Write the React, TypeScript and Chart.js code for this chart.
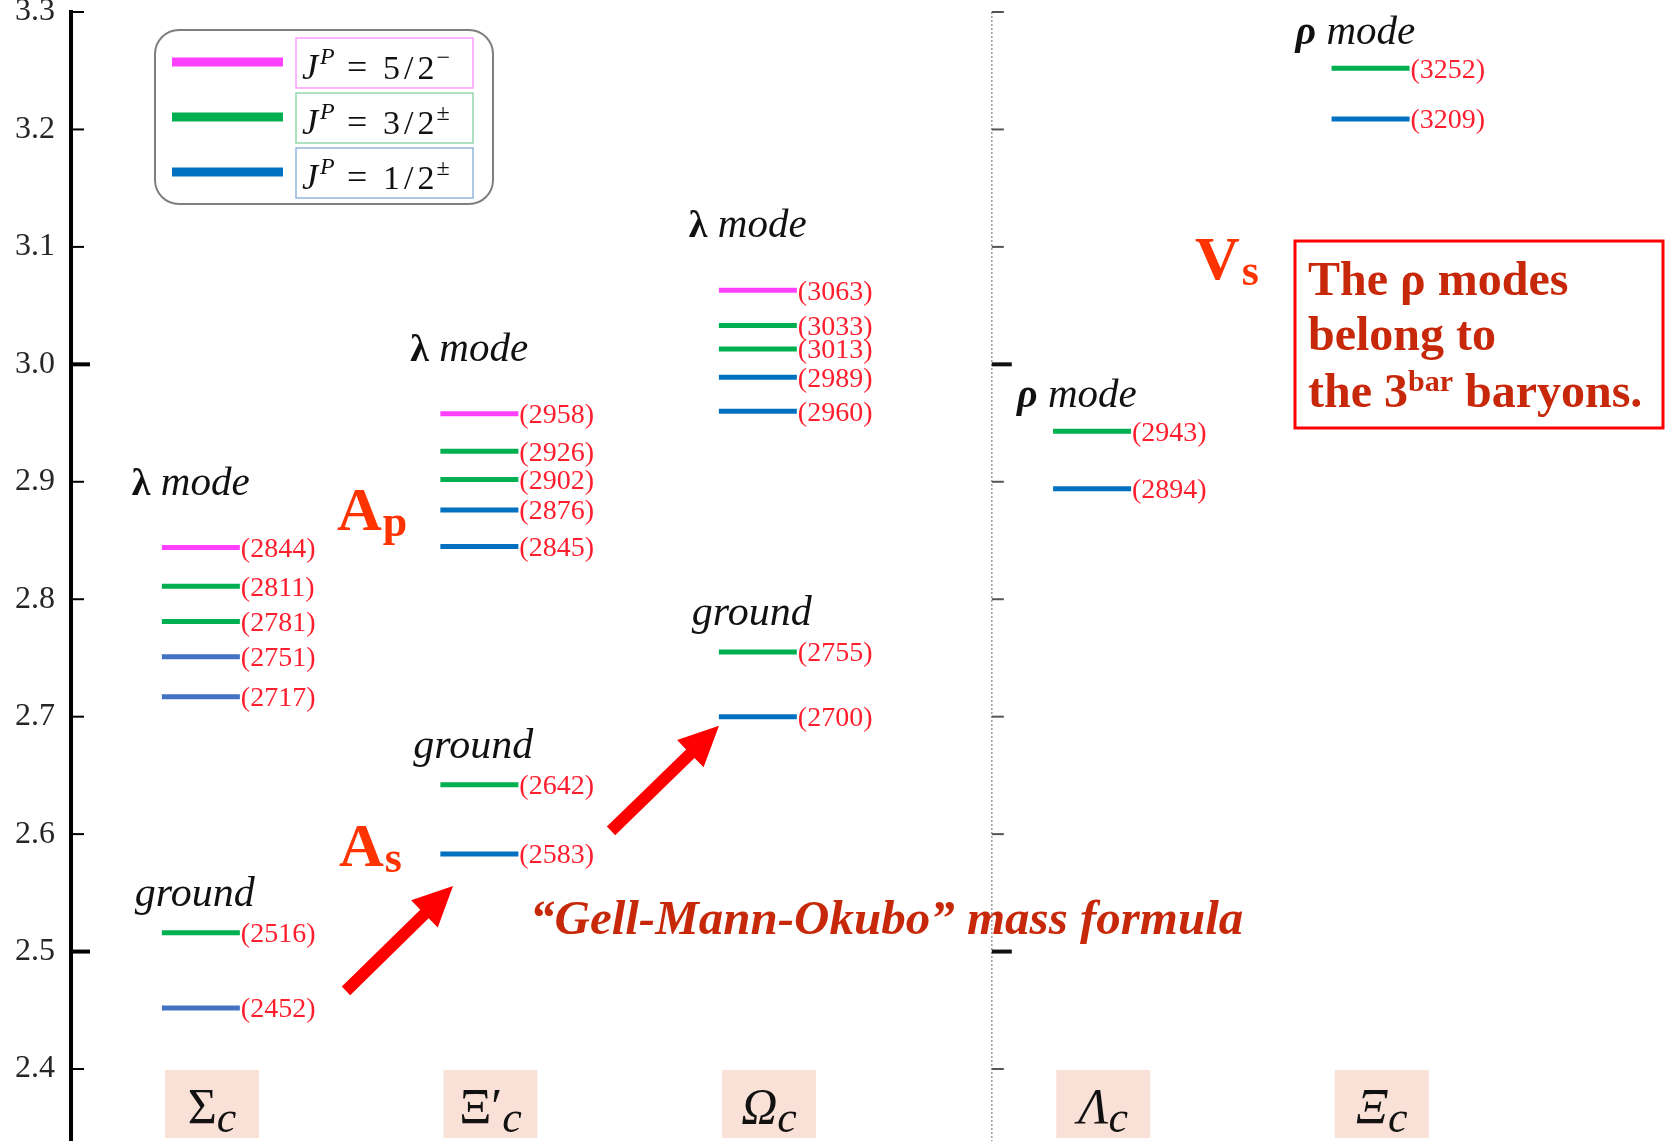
import { useEffect, useRef } from 'react';
import { Chart, registerables } from 'chart.js';

Chart.register(...registerables);

// Baryon columns along the horizontal axis
const baryonSymbols = ['Σ', 'Ξ′', 'Ω', 'Λ', 'Ξ'];
const baryonItalic = [false, false, true, true, true];
const baryonPositions = [0, 1, 2, 3.2, 4.2];
const multipletDivider = 2.8;

// Mass levels (MeV) with their J^P class, one pair of arrays per multiplet
const sigmaGroundMasses = [2452, 2516];
const sigmaGroundSpins = ['1/2', '3/2'];
const sigmaLambdaMasses = [2717, 2751, 2781, 2811, 2844];
const sigmaLambdaSpins = ['1/2', '1/2', '3/2', '3/2', '5/2'];
const xiPrimeGroundMasses = [2583, 2642];
const xiPrimeGroundSpins = ['1/2', '3/2'];
const xiPrimeLambdaMasses = [2845, 2876, 2902, 2926, 2958];
const xiPrimeLambdaSpins = ['1/2', '1/2', '3/2', '3/2', '5/2'];
const omegaGroundMasses = [2700, 2755];
const omegaGroundSpins = ['1/2', '3/2'];
const omegaLambdaMasses = [2960, 2989, 3013, 3033, 3063];
const omegaLambdaSpins = ['1/2', '1/2', '3/2', '3/2', '5/2'];
const lambdaRhoMasses = [2894, 2943];
const lambdaRhoSpins = ['1/2', '3/2'];
const xiRhoMasses = [3209, 3252];
const xiRhoSpins = ['1/2', '3/2'];

// Axis ticks (GeV)
const yTickValues = [2.4, 2.5, 2.6, 2.7, 2.8, 2.9, 3.0, 3.1, 3.2, 3.3];
const yMajorTicks = [2.5, 3.0];

// Legend rows
const legendSpins = ['5/2', '3/2', '1/2'];
const legendParities = ['−', '±', '±'];

type Mode = 'ground' | 'lambda' | 'rho';
interface Multiplet { baryon: number; masses: number[]; spins: string[]; mode: Mode }

const multiplets: Multiplet[] = [
  { baryon: 0, masses: sigmaGroundMasses, spins: sigmaGroundSpins, mode: 'ground' },
  { baryon: 0, masses: sigmaLambdaMasses, spins: sigmaLambdaSpins, mode: 'lambda' },
  { baryon: 1, masses: xiPrimeGroundMasses, spins: xiPrimeGroundSpins, mode: 'ground' },
  { baryon: 1, masses: xiPrimeLambdaMasses, spins: xiPrimeLambdaSpins, mode: 'lambda' },
  { baryon: 2, masses: omegaGroundMasses, spins: omegaGroundSpins, mode: 'ground' },
  { baryon: 2, masses: omegaLambdaMasses, spins: omegaLambdaSpins, mode: 'lambda' },
  { baryon: 3, masses: lambdaRhoMasses, spins: lambdaRhoSpins, mode: 'rho' },
  { baryon: 4, masses: xiRhoMasses, spins: xiRhoSpins, mode: 'rho' },
];

const spinColors: Record<string, string> = { '5/2': '#FF40FF', '3/2': '#00B050', '1/2': '#0070C0' };
const sigmaBlue = '#4472C4';
const levelColor = (baryon: number, spin: string) =>
  spin === '1/2' && baryon === 0 ? sigmaBlue : spinColors[spin];

const LEVEL_LEFT = 0.18;
const LEVEL_RIGHT = 0.1;
const X_MIN = -0.5063;
const X_MAX = 5.2388;
const Y_MIN = 2.3387;
const Y_MAX = 3.3;

const SERIF = '"Liberation Serif", "Times New Roman", serif';
const LABEL_RED = '#FF1E2D';
const ANNOT_RED = '#FF3300';
const NOTE_RED = '#C8280A';

// One dataset per level (a short horizontal segment), remembering the multiplet it belongs to
const datasets: any[] = [];
const topLevelIndex: number[] = [];
multiplets.forEach((mp) => {
  const cx = baryonPositions[mp.baryon];
  let topIdx = -1;
  let topMass = -Infinity;
  mp.masses.forEach((m, i) => {
    if (m > topMass) { topMass = m; topIdx = datasets.length; }
    datasets.push({
      label: `${m}`,
      mass: m,
      data: [
        { x: cx - LEVEL_LEFT, y: m / 1000 },
        { x: cx + LEVEL_RIGHT, y: m / 1000 },
      ],
      showLine: true,
      borderColor: levelColor(mp.baryon, mp.spins[i]),
      backgroundColor: levelColor(mp.baryon, mp.spins[i]),
      borderWidth: 5,
      borderCapStyle: 'butt',
      pointRadius: 0,
      pointHoverRadius: 0,
      fill: false,
    });
  });
  topLevelIndex.push(topIdx);
});

interface Run { text: string; font: string; dy?: number; gap?: number }

function runsWidth(ctx: CanvasRenderingContext2D, runs: Run[]) {
  let w = 0;
  runs.forEach((r) => { ctx.font = r.font; w += ctx.measureText(r.text).width + (r.gap || 0); });
  return w;
}

function drawRuns(ctx: CanvasRenderingContext2D, x: number, y: number, runs: Run[], color: string) {
  ctx.fillStyle = color;
  ctx.textBaseline = 'alphabetic';
  ctx.textAlign = 'left';
  let cx = x;
  runs.forEach((r) => {
    ctx.font = r.font;
    ctx.fillText(r.text, cx, y + (r.dy || 0));
    cx += ctx.measureText(r.text).width + (r.gap || 0);
  });
  return cx;
}

function drawArrow(ctx: CanvasRenderingContext2D, x1: number, y1: number, x2: number, y2: number) {
  const shaft = 12;
  const headW = 38;
  const headL = 40;
  const dx = x2 - x1;
  const dy = y2 - y1;
  const len = Math.hypot(dx, dy);
  const ux = dx / len;
  const uy = dy / len;
  const nx = -uy;
  const ny = ux;
  const bx = x2 - ux * headL;
  const by = y2 - uy * headL;
  ctx.fillStyle = '#FF0000';
  ctx.beginPath();
  ctx.moveTo(x1 + nx * shaft / 2, y1 + ny * shaft / 2);
  ctx.lineTo(bx + nx * shaft / 2, by + ny * shaft / 2);
  ctx.lineTo(bx + nx * headW / 2, by + ny * headW / 2);
  ctx.lineTo(x2, y2);
  ctx.lineTo(bx - nx * headW / 2, by - ny * headW / 2);
  ctx.lineTo(bx - nx * shaft / 2, by - ny * shaft / 2);
  ctx.lineTo(x1 - nx * shaft / 2, y1 - ny * shaft / 2);
  ctx.closePath();
  ctx.fill();
}

const overlayPlugin = {
  id: 'levelOverlay',
  afterDraw(chart: any) {
    const { ctx, chartArea: ca } = chart;
    const xs = chart.scales.x;
    const ys = chart.scales.y;
    const px = (v: number) => xs.getPixelForValue(v);
    const py = (v: number) => ys.getPixelForValue(v);
    ctx.save();

    // inward ticks on the main axis
    yTickValues.forEach((v) => {
      const major = yMajorTicks.includes(v);
      const y = py(v);
      ctx.strokeStyle = '#000';
      ctx.lineWidth = major ? 4 : 2;
      ctx.beginPath();
      ctx.moveTo(ca.left, y);
      ctx.lineTo(ca.left + (major ? 19 : 13), y);
      ctx.stroke();
    });

    // dotted divider between the sextet and anti-triplet columns
    const dx = px(multipletDivider);
    ctx.setLineDash([2, 2]);
    ctx.strokeStyle = '#9a9a9a';
    ctx.lineWidth = 1.5;
    ctx.beginPath();
    ctx.moveTo(dx, ca.top);
    ctx.lineTo(dx, ca.bottom);
    ctx.stroke();
    ctx.setLineDash([]);
    yTickValues.forEach((v) => {
      const major = yMajorTicks.includes(v);
      const y = py(v);
      ctx.strokeStyle = major ? '#111' : '#555';
      ctx.lineWidth = major ? 4 : 2;
      ctx.beginPath();
      ctx.moveTo(dx, y);
      ctx.lineTo(dx + (major ? 20 : 12), y);
      ctx.stroke();
    });

    // mass labels at the right end of each level
    ctx.font = `28px ${SERIF}`;
    ctx.fillStyle = LABEL_RED;
    ctx.textAlign = 'left';
    ctx.textBaseline = 'middle';
    chart.data.datasets.forEach((ds: any, i: number) => {
      const pt = chart.getDatasetMeta(i).data[1];
      ctx.fillText(`(${ds.mass})`, pt.x + 1, pt.y + 2);
    });

    // multiplet titles
    multiplets.forEach((mp, k) => {
      const pt = chart.getDatasetMeta(topLevelIndex[k]).data[0];
      let runs: Run[];
      let off: number;
      let gap: number;
      if (mp.mode === 'lambda') {
        runs = [{ text: 'λ', font: `bold 38px ${SERIF}` }, { text: ' mode', font: `italic 41px ${SERIF}` }];
        off = 30; gap = 53;
      } else if (mp.mode === 'rho') {
        runs = [{ text: 'ρ', font: `bold italic 40px ${SERIF}` }, { text: ' mode', font: `italic 41px ${SERIF}` }];
        off = 36; gap = 24;
      } else {
        runs = [{ text: 'ground', font: `italic 42px ${SERIF}` }];
        off = 27; gap = 27;
      }
      drawRuns(ctx, pt.x - off, pt.y - gap, runs, '#111');
    });

    // baryon name tags along the bottom
    const tagTop = py(2.4) + 1;
    baryonSymbols.forEach((sym, i) => {
      const cx = px(baryonPositions[i]);
      ctx.fillStyle = '#FAE1D7';
      ctx.fillRect(cx - 47, tagTop, 94, 68);
      const runs: Run[] = [
        { text: sym, font: `${baryonItalic[i] ? 'italic ' : ''}50px ${SERIF}` },
        { text: 'c', font: `italic 44px ${SERIF}`, dy: 9 },
      ];
      const w = runsWidth(ctx, runs);
      drawRuns(ctx, cx - w / 2, tagTop + 53, runs, '#111');
    });

    // legend
    const lx = 155;
    const ly = 30;
    ctx.strokeStyle = '#7f7f7f';
    ctx.lineWidth = 2;
    ctx.beginPath();
    ctx.roundRect(lx, ly, 338, 174, 24);
    ctx.stroke();
    const boxColors = ['#FF9CFF', '#92D7AA', '#93B7DD'];
    legendSpins.forEach((spin, i) => {
      const rowY = ly + 32 + i * 55;
      ctx.strokeStyle = spinColors[spin];
      ctx.lineWidth = 9;
      ctx.beginPath();
      ctx.moveTo(lx + 17, rowY);
      ctx.lineTo(lx + 128, rowY);
      ctx.stroke();
      ctx.strokeStyle = boxColors[i];
      ctx.lineWidth = 1.5;
      ctx.strokeRect(lx + 141, rowY - 24, 177, 50);
      const base = rowY + 17;
      const [num, den] = spin.split('/');
      let tx = drawRuns(ctx, lx + 147, base, [{ text: 'J', font: `italic 36px ${SERIF}`, gap: 2 }], '#111');
      tx = drawRuns(ctx, tx, base - 15, [{ text: 'P', font: `italic 24px ${SERIF}` }], '#111');
      tx = drawRuns(ctx, lx + 192, base, [{ text: '=', font: `36px ${SERIF}` }], '#111');
      tx = drawRuns(ctx, lx + 228, base, [
        { text: num, font: `34px ${SERIF}`, gap: 4 },
        { text: '/', font: `34px ${SERIF}`, gap: 4 },
        { text: den, font: `34px ${SERIF}`, gap: 2 },
      ], '#111');
      drawRuns(ctx, tx, base - 14, [{ text: legendParities[i], font: `24px ${SERIF}` }], '#111');
    });

    // Gell-Mann–Okubo arrows
    drawArrow(ctx, px(0.4811), py(2.4665), px(0.8654), py(2.5559));
    drawArrow(ctx, px(1.4327), py(2.6028), px(1.8205), py(2.6922));

    // symmetry-breaking tags
    drawRuns(ctx, px(0.4488), py(2.8589), [
      { text: 'A', font: `bold 62px ${SERIF}`, gap: 1 },
      { text: 'p', font: `bold 44px ${SERIF}`, dy: 6 },
    ], ANNOT_RED);
    drawRuns(ctx, px(0.456), py(2.5725), [
      { text: 'A', font: `bold 62px ${SERIF}`, gap: 1 },
      { text: 's', font: `bold 44px ${SERIF}`, dy: 6 },
    ], ANNOT_RED);
    drawRuns(ctx, px(3.5296), py(3.0726), [
      { text: 'V', font: `bold 62px ${SERIF}`, gap: 2 },
      { text: 's', font: `bold 44px ${SERIF}`, dy: 6 },
    ], ANNOT_RED);

    drawRuns(ctx, px(1.1418), py(2.5149), [
      { text: '“Gell-Mann-Okubo” mass formula', font: `bold italic 49px ${SERIF}` },
    ], NOTE_RED);

    // boxed note about the rho modes
    const bx1 = px(3.8887);
    const bx2 = px(5.2101);
    const by1 = py(3.105);
    const by2 = py(2.9458);
    ctx.strokeStyle = '#FF0000';
    ctx.lineWidth = 3;
    ctx.strokeRect(bx1, by1, bx2 - bx1, by2 - by1);
    const noteFont = `bold 48px ${SERIF}`;
    drawRuns(ctx, bx1 + 13, by1 + 54, [{ text: 'The ρ modes', font: noteFont }], NOTE_RED);
    drawRuns(ctx, bx1 + 13, by1 + 109, [{ text: 'belong to', font: noteFont }], NOTE_RED);
    drawRuns(ctx, bx1 + 13, by1 + 166, [
      { text: 'the 3', font: noteFont },
      { text: 'bar', font: `bold 30px ${SERIF}`, dy: -16 },
      { text: ' baryons.', font: noteFont },
    ], NOTE_RED);

    ctx.restore();
  },
};

export default function App() {
  const canvasRef = useRef<HTMLCanvasElement>(null);

  useEffect(() => {
    const canvas = canvasRef.current;
    if (!canvas) return;
    const chart = new Chart(canvas, {
      type: 'scatter',
      data: { datasets },
      options: {
        animation: false,
        responsive: false,
        events: [],
        layout: { padding: { top: 12, left: 0, right: 0, bottom: 0 } },
        plugins: { legend: { display: false }, tooltip: { enabled: false } },
        scales: {
          x: { type: 'linear', display: false, min: X_MIN, max: X_MAX },
          y: {
            type: 'linear',
            position: 'left',
            min: Y_MIN,
            max: Y_MAX,
            afterBuildTicks: (s: any) => { s.ticks = yTickValues.map((v) => ({ value: v })); },
            afterFit: (s: any) => { s.width = 71; s.paddingTop = 0; s.paddingBottom = 0; },
            grid: { display: false, drawTicks: false },
            border: { display: true, color: '#000', width: 4 },
            ticks: {
              padding: 16,
              autoSkip: false,
              color: '#262626',
              font: { family: '"Liberation Serif", serif', size: 32 },
              callback: (v: any) => Number(v).toFixed(1),
            },
          },
        },
      } as any,
      plugins: [overlayPlugin],
    } as any);
    return () => chart.destroy();
  }, []);

  return (
    <div style={{ position: 'fixed', left: 0, top: 0, width: 1671, height: 1141, background: '#ffffff' }}>
      <canvas ref={canvasRef} width={1671} height={1141} style={{ display: 'block' }} />
    </div>
  );
}
